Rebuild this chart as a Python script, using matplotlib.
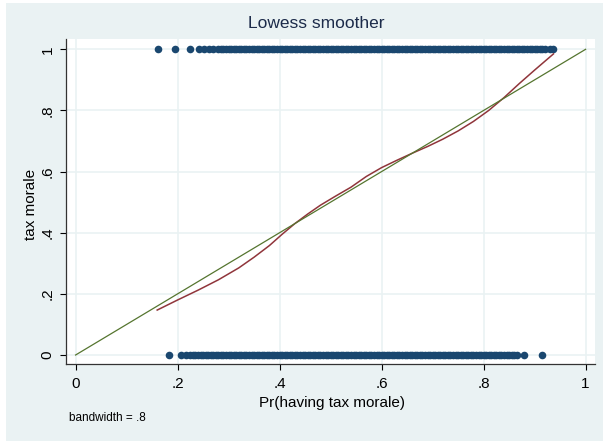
import matplotlib
matplotlib.use('Agg')
import matplotlib.pyplot as plt
from matplotlib.patches import Rectangle

plt.rcParams['font.family'] = ['Liberation Sans', 'DejaVu Sans']

# 관측치: tax morale = 1
obs1_x = [0.162, 0.195, 0.224, 0.242, 0.252, 0.261, 0.270, 0.279,
          0.285, 0.290, 0.295, 0.300, 0.305, 0.310, 0.315, 0.320, 0.325, 0.330,
          0.335, 0.340, 0.345, 0.350, 0.355, 0.360, 0.365, 0.370, 0.375, 0.380,
          0.385, 0.390, 0.395, 0.400, 0.405, 0.410, 0.415, 0.420, 0.425, 0.430,
          0.435, 0.440, 0.445, 0.450, 0.455, 0.460, 0.465, 0.470, 0.475, 0.480,
          0.485, 0.490, 0.495, 0.500, 0.505, 0.510, 0.515, 0.520, 0.525, 0.530,
          0.535, 0.540, 0.545, 0.550, 0.555, 0.560, 0.565, 0.570, 0.575, 0.580,
          0.585, 0.590, 0.595, 0.600, 0.605, 0.610, 0.615, 0.620, 0.625, 0.630,
          0.635, 0.640, 0.645, 0.650, 0.655, 0.660, 0.665, 0.670, 0.675, 0.680,
          0.685, 0.690, 0.695, 0.700, 0.705, 0.710, 0.715, 0.720, 0.725, 0.730,
          0.735, 0.740, 0.745, 0.750, 0.755, 0.760, 0.765, 0.770, 0.775, 0.780,
          0.785, 0.790, 0.795, 0.800, 0.805, 0.810, 0.815, 0.820, 0.825, 0.830,
          0.835, 0.840, 0.845, 0.850, 0.855, 0.860, 0.865, 0.870, 0.875, 0.880,
          0.885, 0.890, 0.895, 0.900, 0.905, 0.910, 0.915,
          0.920, 0.930, 0.937]

# 관측치: tax morale = 0
obs0_x = [0.184, 0.206, 0.216,
          0.225, 0.230, 0.235, 0.240, 0.245, 0.250, 0.255, 0.260, 0.265, 0.270,
          0.275, 0.280, 0.285, 0.290, 0.295, 0.300, 0.305, 0.310, 0.315, 0.320,
          0.325, 0.330, 0.335, 0.340, 0.345, 0.350, 0.355, 0.360, 0.365, 0.370,
          0.375, 0.380, 0.385, 0.390, 0.395, 0.400, 0.405, 0.410, 0.415, 0.420,
          0.425, 0.430, 0.435, 0.440, 0.445, 0.450, 0.455, 0.460, 0.465, 0.470,
          0.475, 0.480, 0.485, 0.490, 0.495, 0.500, 0.505, 0.510, 0.515, 0.520,
          0.525, 0.530, 0.535, 0.540, 0.545, 0.550, 0.555, 0.560, 0.565, 0.570,
          0.575, 0.580, 0.585, 0.590, 0.595, 0.600, 0.605, 0.610, 0.615, 0.620,
          0.625, 0.630, 0.635, 0.640, 0.645, 0.650, 0.655, 0.660, 0.665, 0.670,
          0.675, 0.680, 0.685, 0.690, 0.695, 0.700, 0.705, 0.710, 0.715, 0.720,
          0.725, 0.730, 0.735, 0.740, 0.745, 0.750, 0.755, 0.760, 0.765, 0.770,
          0.775, 0.780, 0.785, 0.790, 0.795, 0.800, 0.805, 0.810, 0.815, 0.820,
          0.825, 0.830, 0.835, 0.840, 0.845, 0.850, 0.855, 0.860, 0.866,
          0.880, 0.915]

# lowess 곡선
lowess_x = [0.160, 0.200, 0.240, 0.280, 0.320, 0.350, 0.380, 0.405, 0.430,
            0.455, 0.480, 0.510, 0.540, 0.570, 0.600, 0.630, 0.660, 0.690,
            0.720, 0.750, 0.780, 0.810, 0.840, 0.870, 0.900, 0.937]
lowess_y = [0.147, 0.180, 0.212, 0.246, 0.285, 0.320, 0.358, 0.395, 0.430,
            0.461, 0.490, 0.520, 0.549, 0.584, 0.613, 0.637, 0.660, 0.682,
            0.706, 0.733, 0.764, 0.800, 0.842, 0.888, 0.932, 0.985]

# 45도 기준선
ref_x = [0, 1]
ref_y = [0, 1]

ticks = [0, 0.2, 0.4, 0.6, 0.8, 1]
tick_labels = ['0', '.2', '.4', '.6', '.8', '1']

W, H = 603, 441
fig = plt.figure(figsize=(W / 100, H / 100), dpi=100)
fig.patch.set_facecolor('white')
fig.patches.append(Rectangle((6 / W, 0), 1 - 6 / W, 1 - 3 / H, transform=fig.transFigure,
                             facecolor='#EAF2F3', edgecolor='none', zorder=-10))

ax = fig.add_axes([66 / W, 1 - 364.3 / H, 529 / W, 325.3 / H])
ax.set_facecolor('white')

navy = '#1A476F'
ax.scatter(obs1_x, [1] * len(obs1_x), s=30, color=navy, linewidths=0, zorder=3)
ax.scatter(obs0_x, [0] * len(obs0_x), s=30, color=navy, linewidths=0, zorder=3)
ax.plot(lowess_x, lowess_y, color='#90353B', lw=1.1, zorder=4)
ax.plot(ref_x, ref_y, color='#55752F', lw=0.9, zorder=4)

ax.set_xlim(-0.0188, 1.0184)
ax.set_ylim(-0.0304, 1.0337)

ax.set_xticks(ticks)
ax.set_xticklabels(tick_labels)
ax.set_yticks(ticks)
ax.set_yticklabels(tick_labels, rotation=90, va='center')
ax.tick_params(axis='both', direction='out', length=4.3, width=0.8, labelsize=11, colors='black')
ax.tick_params(axis='x', pad=5)
ax.tick_params(axis='y', pad=4)

ax.grid(True, color='#EAF2F3', lw=1.2)
ax.set_axisbelow(True)

for s in ['top', 'right']:
    ax.spines[s].set_visible(False)
for s in ['left', 'bottom']:
    ax.spines[s].set_color('#333333')
    ax.spines[s].set_linewidth(0.9)

ax.set_xlabel('Pr(having tax morale)', fontsize=11)
ax.xaxis.set_label_coords((332 - 66) / 529, (364.3 - 402.5) / 325.3)
ax.xaxis.label.set_va('center')
ax.set_ylabel('tax morale', fontsize=11)
ax.yaxis.set_label_coords((31 - 66) / 529, (364.3 - 204) / 325.3)
ax.yaxis.label.set_va('center')

fig.text(316 / W, 1 - 27.7 / H, 'Lowess smoother', ha='center', va='baseline',
         fontsize=12.5, color='#1C2B4A')
fig.text(69 / W, 1 - 417.7 / H, 'bandwidth = .8', ha='left', va='center', fontsize=8.5)

fig.savefig('out.png', dpi=100)
